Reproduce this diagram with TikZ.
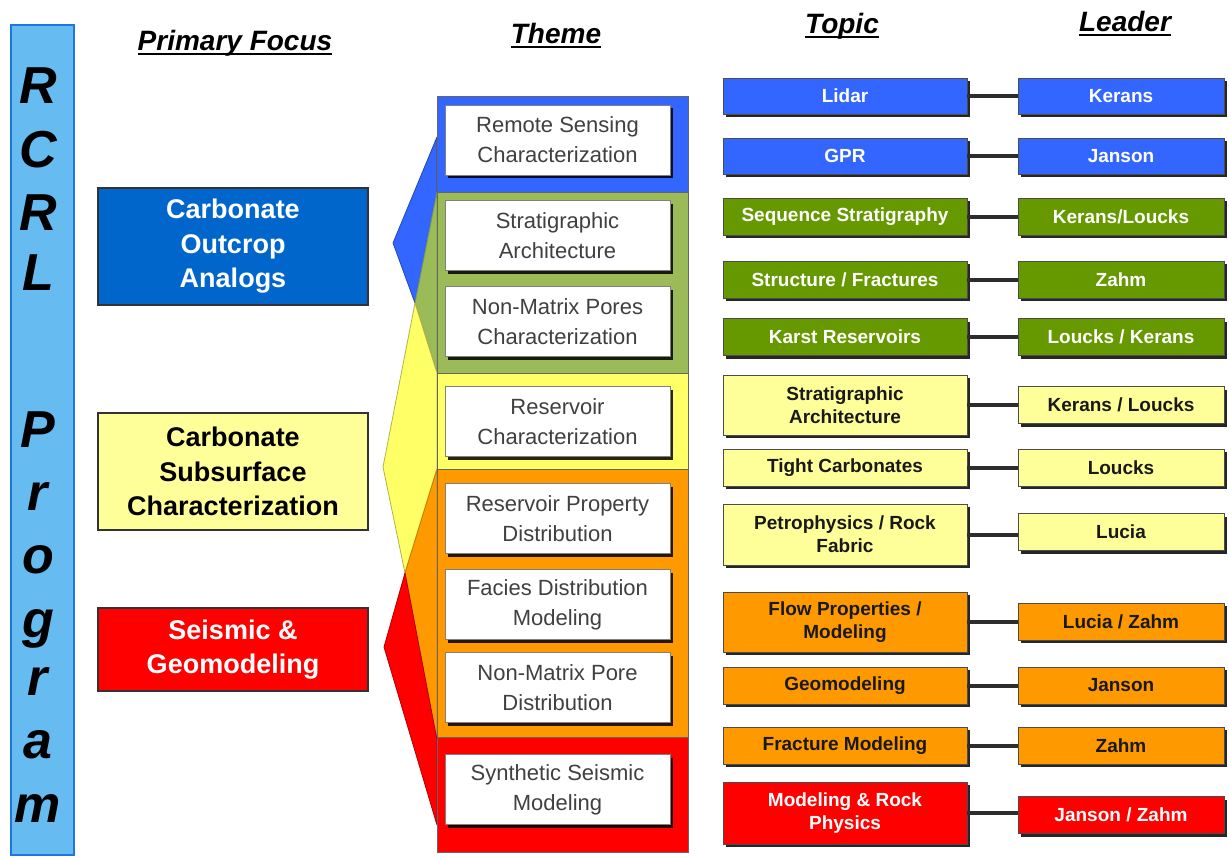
\documentclass[tikz,border=0pt]{standalone}
\usepackage{fontspec}
\setmainfont{Liberation Sans}
\usetikzlibrary{shadows}
\definecolor{barblue}{RGB}{102,187,240}
\definecolor{baredge}{RGB}{30,120,220}
\definecolor{pfblue}{RGB}{0,102,204}
\definecolor{pfyellow}{RGB}{255,255,153}
\definecolor{pfred}{RGB}{255,0,0}
\definecolor{thblue}{RGB}{51,102,255}
\definecolor{thgreen}{RGB}{155,187,89}
\definecolor{thyellow}{RGB}{255,255,102}
\definecolor{thorange}{RGB}{255,153,0}
\definecolor{thred}{RGB}{255,0,0}
\definecolor{tpblue}{RGB}{51,102,255}
\definecolor{tpgreen}{RGB}{102,153,0}
\definecolor{tpyellow}{RGB}{255,255,153}
\definecolor{tporange}{RGB}{255,153,0}
\definecolor{tpred}{RGB}{255,0,0}
\definecolor{conncol}{RGB}{45,45,45}
\begin{document}
\begin{tikzpicture}[x=1pt,y=-1pt,
  hdr/.style={inner sep=0pt, anchor=base, font=\fontsize{28}{32}\selectfont\bfseries\itshape},
  barletter/.style={inner sep=0pt, anchor=base, font=\fontsize{52}{60}\selectfont\bfseries\itshape},
  pfbox/.style={draw=black!80, line width=1.5pt, minimum width=270pt, align=center, inner sep=0pt,
    font=\fontsize{27}{34.5}\selectfont\bfseries},
  shad/.style={drop shadow={shadow xshift=3pt, shadow yshift=-3pt, fill=black, opacity=0.85}},
  themebox/.style={shad, fill=white, draw=black!50, line width=0.8pt, minimum width=225pt, minimum height=70pt,
    align=center, inner sep=0pt, text=black!75, font=\fontsize{22}{30}\selectfont},
  topic/.style={shad, draw=black!70, line width=0.8pt, minimum width=244pt, minimum height=37pt,
    align=center, inner sep=0pt, font=\fontsize{19}{23}\selectfont\bfseries},
  leader/.style={topic, minimum width=206pt},
  conn/.style={draw=conncol, line width=4pt},
  fan/.style={line width=0.8pt, line join=round}
]
\useasboundingbox (0,0) rectangle (1229,857);

% left bar
\draw[fill=barblue, draw=baredge, line width=2pt] (11,25) rectangle (74,855);
\node[barletter] (b1) at (38,103) {R};
\node[barletter] (b2) at (38,167) {C};
\node[barletter] (b3) at (38,230) {R};
\node[barletter] (b4) at (38,290) {L};
\node[barletter] (b5) at (38,447) {P};
\node[barletter] (b6) at (38,510) {r};
\node[barletter] (b7) at (38,573) {o};
\node[barletter] (b8) at (38,637) {g};
\node[barletter] (b9) at (38,695) {r};
\node[barletter] (b10) at (38,758) {a};
\node[barletter] (b11) at (38,822) {m};

% headers
\node[hdr] (hpf) at (235,50) {Primary Focus};
\draw[line width=2pt] ([yshift=-4pt]hpf.base west) -- ([yshift=-4pt]hpf.base east);
\node[hdr] (hth) at (556,43) {Theme};
\draw[line width=2pt] ([yshift=-4pt]hth.base west) -- ([yshift=-4pt]hth.base east);
\node[hdr] (htp) at (842,33) {Topic};
\draw[line width=2pt] ([yshift=-4pt]htp.base west) -- ([yshift=-4pt]htp.base east);
\node[hdr] (hld) at (1125,31) {Leader};
\draw[line width=2pt] ([yshift=-4pt]hld.base west) -- ([yshift=-4pt]hld.base east);

% primary focus boxes
\node[pfbox, fill=pfblue, text=white, minimum height=117pt] (pf1) at (233,246.5) {Carbonate\\Outcrop\\Analogs};
\node[pfbox, fill=pfyellow, text=black, minimum height=117pt] (pf2) at (233,471.5) {Carbonate\\Subsurface\\Characterization};
\node[pfbox, fill=pfred, text=white, minimum height=83pt] (pf3) at (233,649.5) {Seismic \&\\Geomodeling};

% fans
\filldraw[fan, fill=thblue, draw=thblue!70!black] (437,137) -- (393,243) -- (415,303) -- (437,303) -- cycle;
\filldraw[fan, fill=thgreen, draw=thgreen!80!black] (437,192) -- (415,303) -- (437,373) -- cycle;
\filldraw[fan, fill=thyellow, draw=thyellow!70!black] (415,303) -- (383,467) -- (405,573) -- (437,469) -- (437,373) -- cycle;
\filldraw[fan, fill=thorange, draw=thorange!80!black] (437,469) -- (405,573) -- (437,740) -- cycle;
\filldraw[fan, fill=thred, draw=thred!70!black] (405,573) -- (384,647) -- (437,825) -- (437,740) -- cycle;

% theme panel sections
\filldraw[fill=thblue, draw=black!60, line width=1pt] (437,96) rectangle (688,192);
\filldraw[fill=thgreen, draw=black!60, line width=1pt] (437,192) rectangle (688,373);
\filldraw[fill=thyellow, draw=black!60, line width=1pt] (437,373) rectangle (688,469);
\filldraw[fill=thorange, draw=black!60, line width=1pt] (437,469) rectangle (688,737);
\filldraw[fill=thred, draw=black!60, line width=1pt] (437,737) rectangle (688,852);

% theme boxes
\node[themebox] (th1) at (557.5,140) {Remote Sensing\\Characterization};
\node[themebox] (th2) at (557.5,235.5) {Stratigraphic\\Architecture};
\node[themebox] (th3) at (557.5,321.5) {Non-Matrix Pores\\Characterization};
\node[themebox] (th4) at (557.5,421.5) {Reservoir\\Characterization};
\node[themebox] (th5) at (557.5,518.5) {Reservoir Property\\Distribution};
\node[themebox] (th6) at (557.5,604.5) {Facies Distribution\\Modeling};
\node[themebox] (th7) at (557.5,687.5) {Non-Matrix Pore\\Distribution};
\node[themebox] (th8) at (557.5,789.5) {Synthetic Seismic\\Modeling};

% topics and leaders
\node[topic, fill=tpblue, text=white, minimum height=36pt] (t1) at (845,96) {Lidar};
\node[leader, fill=tpblue, text=white, minimum height=36pt] (l1) at (1121,96) {Kerans};
\node[topic, fill=tpblue, text=white, minimum height=36pt] (t2) at (845,156) {GPR};
\node[leader, fill=tpblue, text=white, minimum height=36pt] (l2) at (1121,156) {Janson};
\node[topic, fill=tpgreen, text=white] (t3) at (845,216.5) {Sequence Stratigraphy};
\node[leader, fill=tpgreen, text=white] (l3) at (1121,216.5) {Kerans/Loucks};
\node[topic, fill=tpgreen, text=white] (t4) at (845,279.5) {Structure / Fractures};
\node[leader, fill=tpgreen, text=white] (l4) at (1121,279.5) {Zahm};
\node[topic, fill=tpgreen, text=white] (t5) at (845,337) {Karst Reservoirs};
\node[leader, fill=tpgreen, text=white] (l5) at (1121,337) {Loucks / Kerans};
\node[topic, fill=tpyellow, text=black!90, minimum height=60pt] (t6) at (845,405) {Stratigraphic\\Architecture};
\node[leader, fill=tpyellow, text=black!90] (l6) at (1121,405) {Kerans / Loucks};
\node[topic, fill=tpyellow, text=black!90] (t7) at (845,467.5) {Tight Carbonates};
\node[leader, fill=tpyellow, text=black!90] (l7) at (1121,467.5) {Loucks};
\node[topic, fill=tpyellow, text=black!90, minimum height=61pt] (t8) at (845,534.5) {Petrophysics / Rock\\Fabric};
\node[leader, fill=tpyellow, text=black!90] (l8) at (1121,532) {Lucia};
\node[topic, fill=tporange, text=black!90, minimum height=60pt] (t9) at (845,622) {Flow Properties /\\Modeling};
\node[leader, fill=tporange, text=black!90] (l9) at (1121,621.5) {Lucia / Zahm};
\node[topic, fill=tporange, text=black!90] (t10) at (845,685.5) {Geomodeling};
\node[leader, fill=tporange, text=black!90] (l10) at (1121,685.5) {Janson};
\node[topic, fill=tporange, text=black!90] (t11) at (845,745.5) {Fracture Modeling};
\node[leader, fill=tporange, text=black!90] (l11) at (1121,745.5) {Zahm};
\node[topic, fill=tpred, text=white, minimum height=62pt] (t12) at (845,813) {Modeling \& Rock\\Physics};
\node[leader, fill=tpred, text=white] (l12) at (1121,815) {Janson / Zahm};

\foreach \i in {1,...,12} {
  \draw[conn] (t\i.east) -- (t\i.east -| l\i.west);
}
\end{tikzpicture}
\end{document}
